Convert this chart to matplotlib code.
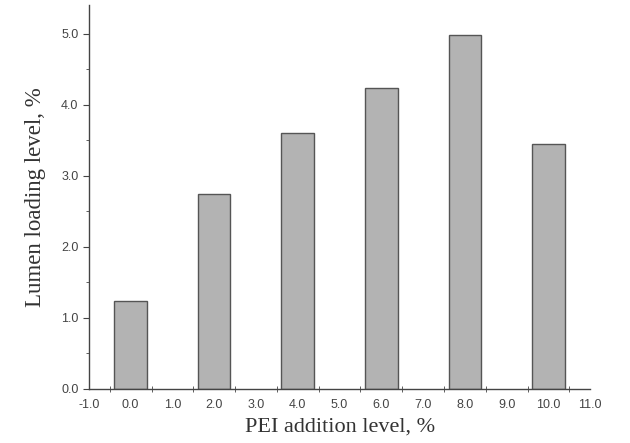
import matplotlib.pyplot as plt
import numpy as np
from matplotlib.ticker import MultipleLocator

pei = [0, 2, 4, 6, 8, 10]
loading = [1.24, 2.74, 3.60, 4.24, 4.98, 3.45]

fig = plt.figure(figsize=(6.3, 4.43), dpi=100)
ax = fig.add_axes([0.141, 0.122, 0.796, 0.866])

ax.bar(pei, loading, width=0.78, color="#b3b3b3", edgecolor="#555555", linewidth=1.0)

ax.set_xlim(-1, 11)
ax.set_ylim(0, 5.4)

# labels at integers, tick marks at half-integers
ax.set_xticks(np.arange(-1, 12, 1))
ax.set_xticklabels([f"{v:.1f}" for v in np.arange(-1, 12, 1)])
ax.set_xticks(np.arange(-0.5, 11, 1), minor=True)
ax.tick_params(axis="x", which="major", length=0, pad=7)
ax.tick_params(axis="x", which="minor", length=5, direction="inout", color="#444444")

ax.set_yticks(np.arange(0, 5.1, 1))
ax.set_yticklabels([f"{v:.1f}" for v in np.arange(0, 5.1, 1)])
ax.yaxis.set_minor_locator(MultipleLocator(0.5))
ax.tick_params(axis="y", which="major", length=4, color="#444444")
ax.tick_params(axis="y", which="minor", length=2.5, color="#444444")
ax.tick_params(labelsize=9, labelcolor="#444444")
for lab in ax.get_xticklabels() + ax.get_yticklabels():
    lab.set_family("Liberation Sans")

for s in ["top", "right"]:
    ax.spines[s].set_visible(False)
for s in ["left", "bottom"]:
    ax.spines[s].set_color("#444444")
    ax.spines[s].set_linewidth(1.0)

ax.set_xlabel("PEI addition level, %", family="Liberation Serif", fontsize=16, color="#333333", labelpad=5)
ax.set_ylabel("Lumen loading level, %", family="Liberation Serif", fontsize=16.5, color="#333333", labelpad=11)

fig.savefig("out.png", dpi=100)
